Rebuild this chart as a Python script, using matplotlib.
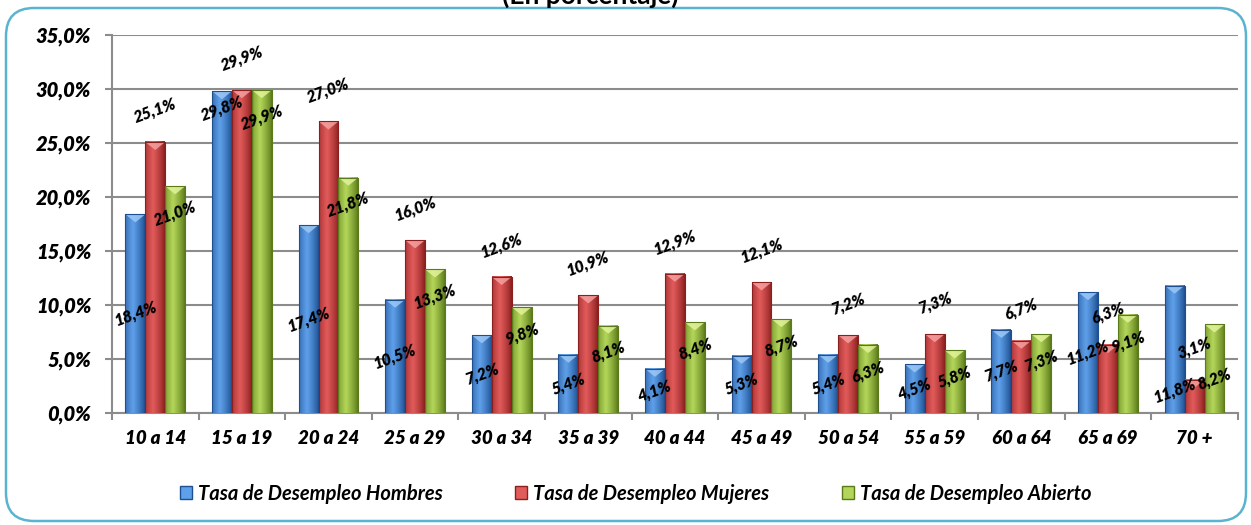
#!/usr/bin/env python3
"""Tasa de desempleo por grupo de edad y sexo (en porcentaje)."""

import matplotlib
matplotlib.use("Agg")
import matplotlib.pyplot as plt
import numpy as np
from matplotlib.colors import to_rgb
from matplotlib.patches import FancyBboxPatch, Polygon

categories = ["10 a 14", "15 a 19", "20 a 24", "25 a 29", "30 a 34", "35 a 39",
              "40 a 44", "45 a 49", "50 a 54", "55 a 59", "60 a 64", "65 a 69", "70 +"]
hombres = [18.4, 29.8, 17.4, 10.5, 7.2, 5.4, 4.1, 5.3, 5.4, 4.5, 7.7, 11.2, 11.8]
mujeres = [25.1, 29.9, 27.0, 16.0, 12.6, 10.9, 12.9, 12.1, 7.2, 7.3, 6.7, 6.3, 3.1]
abierto = [21.0, 29.9, 21.8, 13.3, 9.8, 8.1, 8.4, 8.7, 6.3, 5.8, 7.3, 9.1, 8.2]
series_names = ["Tasa de Desempleo Hombres", "Tasa de Desempleo Mujeres",
                "Tasa de Desempleo Abierto"]

# label placements that were moved by hand in the original
label_overrides = {(0, 1): 28.2, (0, 12): 2.1, (2, 12): 3.1}

FONT = "Lato"
colors = {
    0: ("#1d4f91", "#5fa0ea", "#9cc8f5"),
    1: ("#8a1f1f", "#e25b5b", "#f5a0a0"),
    2: ("#5b7a1a", "#b3d65a", "#e2f29a"),
}


def fmt(v):
    return f"{v:.1f}%".replace(".", ",")


def gradient(dark, light):
    d = np.array(to_rgb(dark))
    l = np.array(to_rgb(light))
    t = np.linspace(0, 1, 40)
    prof = np.clip(1 - np.abs(t - 0.4) / 0.6, 0, 1) ** 0.8
    return (d[None, :] + (l - d)[None, :] * prof[:, None])[None, :, :]


fig = plt.figure(figsize=(12.51, 5.25), dpi=100)
ax = fig.add_axes([0.0895, 0.2133, 0.9, 0.72])

x = np.arange(len(categories))
w = 0.23
data = [hombres, mujeres, abierto]
for s, vals in enumerate(data):
    dark, light, top = colors[s]
    img = gradient(dark, light)
    for i, v in enumerate(vals):
        xc = x[i] + (s - 1) * w
        x0, x1 = xc - w / 2, xc + w / 2
        ax.imshow(img, extent=(x0, x1, 0, v), aspect="auto", zorder=3,
                  interpolation="bilinear")
        ax.add_patch(Polygon([(x0, v), (x1, v), (xc, v - 0.75)], closed=True,
                             facecolor=top, edgecolor="none", alpha=0.85, zorder=4))
        ax.plot([x0, x0, x1, x1], [0, v, v, 0], color=dark, lw=0.8, zorder=4)

        if s == 0:
            ly = v / 2
        elif s == 1:
            ly = v + 2.9
        else:
            ly = v - 2.5
        ly = label_overrides.get((s, i), ly)
        ax.text(xc, ly, fmt(v), ha="center", va="center", rotation=20,
                fontsize=11.5, fontweight="heavy", style="italic", family=FONT,
                zorder=6)

ax.set_xlim(-0.5, len(categories) - 0.5)
ax.set_ylim(0, 35)
ax.set_yticks(np.arange(0, 36, 5))
ax.set_yticklabels([fmt(v) for v in np.arange(0, 36, 5)])
ax.yaxis.grid(True, color="#8c8c8c", lw=1.5, zorder=0)
ax.set_axisbelow(True)

ax.set_xticks(x)
ax.set_xticklabels(categories)
ax.set_xticks(np.arange(-0.5, len(categories)), minor=True)
ax.tick_params(axis="x", which="major", length=0, pad=12)
ax.tick_params(axis="x", which="minor", length=5, width=1.5, color="#8c8c8c")
ax.tick_params(axis="y", length=5, width=1.5, color="#8c8c8c", pad=10)
for lab in ax.get_xticklabels():
    lab.set_fontsize(13.5)
for lab in ax.get_yticklabels():
    lab.set_fontsize(14.5)
for lab in ax.get_xticklabels() + ax.get_yticklabels():
    lab.set_fontfamily(FONT)
    lab.set_fontweight("heavy")
    lab.set_style("italic")

for side in ["top", "right"]:
    ax.spines[side].set_visible(False)
for side in ["left", "bottom"]:
    ax.spines[side].set_color("#8c8c8c")
    ax.spines[side].set_linewidth(1.5)

handles = [plt.Rectangle((0, 0), 1, 1, facecolor=colors[s][1], edgecolor=colors[s][0])
           for s in range(3)]
fig.legend(handles, series_names, loc="center", bbox_to_anchor=(0.508, 0.06),
           ncol=3, frameon=False, columnspacing=3.6, handlelength=0.6,
           handleheight=0.6, handletextpad=0.3,
           prop={"family": FONT, "weight": "bold", "style": "italic", "size": 14.5})

fig.text(0.472, 1 - 4 / 525, "(En porcentaje)", ha="center", va="baseline",
         fontsize=19, fontweight="bold", family=FONT)

border = FancyBboxPatch((0.06, 0.04), 12.4, 5.13,
                        boxstyle="round,pad=0,rounding_size=0.28",
                        transform=fig.dpi_scale_trans, facecolor="none",
                        edgecolor="#5ab4cf", lw=1.8)
fig.patches.append(border)

fig.savefig("out.png", dpi=100)
